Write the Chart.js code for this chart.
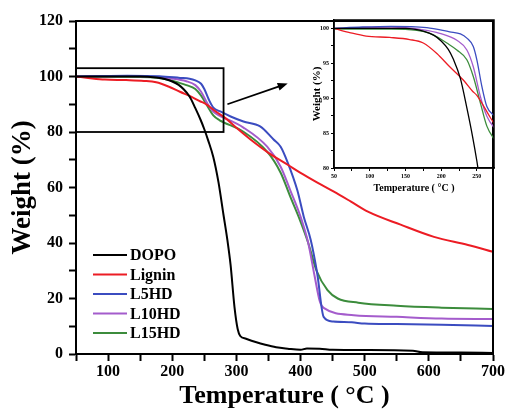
<!DOCTYPE html>
<html>
<head>
<meta charset="utf-8">
<script src="https://cdn.jsdelivr.net/npm/chart.js@4.4.1/dist/chart.umd.min.js"></script>
<style>
  body { margin: 0; background: #fff; }
  #wrap { position: relative; width: 509px; height: 409px; }
  #main { position: absolute; left: 0; top: 0; }
  #inset { position: absolute; left: 290px; top: 0; }
</style>
</head>
<body>
<div id="wrap">
  <canvas id="main" width="509" height="409"></canvas>
  <canvas id="inset" width="219" height="200"></canvas>
</div>
<script>
// --- data ---
const seriesNames = ['DOPO', 'Lignin', 'L5HD', 'L10HD', 'L15HD'];
const seriesColors = ['#000000', '#ec1c24', '#3b4cc0', '#a45ccc', '#3c8c3c'];

const dopoT = [50, 100, 150, 175, 190, 200, 210, 217, 227, 236, 244, 250, 256, 264, 272, 280, 286, 291, 297, 302, 306, 315, 330, 345, 362, 380, 400, 410, 430, 450, 500, 575, 590, 650, 700];
const dopoW = [100, 100, 100, 99.6, 99, 98.2, 97, 95.6, 92.8, 88.6, 84.5, 81, 77, 71, 62, 50, 41, 32, 17, 9, 6.5, 5.5, 4.3, 3.3, 2.4, 1.9, 1.5, 2, 1.9, 1.5, 1.4, 1.2, 0.6, 0.5, 0.4];

const ligninT = [50, 72, 95, 128, 156, 175, 194, 212, 231, 244, 250, 269, 283, 300, 322, 350, 380, 400, 427, 452, 478, 505, 556, 608, 661, 700];
const ligninW = [100, 99.4, 98.9, 98.7, 98.4, 97.9, 96.4, 94.5, 92.6, 91, 90.4, 87.2, 85, 81.5, 77.3, 72.5, 68.2, 65.3, 61.7, 58.5, 55, 51.3, 46.6, 42.2, 39.3, 36.8];

const l5T = [50, 90, 130, 180, 212, 227, 236, 245, 250, 257, 264, 275, 291, 311, 337, 358, 369, 380, 395, 405, 416, 426, 436, 451, 480, 500, 550, 620, 700];
const l5W = [100, 100.2, 100.3, 100.1, 99.5, 99.2, 98.6, 97.4, 95.5, 91.7, 88.8, 87.4, 85.6, 83.8, 82, 77.3, 74.7, 69, 59, 49.5, 41, 29, 13.4, 11.7, 11.4, 11, 10.8, 10.5, 10.1];

const l10T = [50, 130, 175, 198, 222, 236, 245, 255, 264, 275, 280, 311, 348, 369, 384, 400, 412, 422, 430, 436, 483, 550, 620, 700];
const l10W = [100, 100.2, 99.8, 99.3, 98.3, 96.9, 94.5, 90.2, 87.4, 85.7, 85.2, 81.6, 74.7, 67.5, 59, 49.5, 40, 28, 19, 16.6, 14, 13.4, 12.8, 12.6];

const l15T = [50, 130, 166, 184, 194, 208, 222, 236, 245, 255, 264, 274, 280, 311, 348, 369, 384, 397, 412, 425, 442, 458, 490, 550, 620, 700];
const l15W = [99.9, 99.9, 99.7, 99.3, 98.8, 97.9, 96.9, 95.5, 93.1, 89.3, 86, 84.2, 83.5, 80.1, 72.9, 65.3, 56.7, 49.5, 40, 30, 23, 20, 18.5, 17.4, 16.7, 16.2];

const allT = [dopoT, ligninT, l5T, l10T, l15T];
const allW = [dopoW, ligninW, l5W, l10W, l15W];

// zoomed region and arrow (data units)
const zoomBox = { x0: 50, x1: 280, y0: 80, y1: 103 };
const arrowFrom = [286, 90];
const arrowTo = [380, 97.5];

const FONT = '"Liberation Serif", "Times New Roman", serif';

function makeDatasets(width) {
    return seriesNames.map((name, i) => ({
        label: name,
        data: allT[i].map((t, j) => ({ x: t, y: allW[i][j] })),
        borderColor: seriesColors[i],
        backgroundColor: seriesColors[i],
        borderWidth: width,
        pointRadius: 0,
        cubicInterpolationMode: 'monotone',
        fill: false
    }));
}

// frame round the plot area
const framePlugin = {
    id: 'frame',
    afterDatasetsDraw(chart, args, opts) {
        const { ctx, chartArea: a } = chart;
        ctx.save();
        ctx.strokeStyle = '#000';
        ctx.lineWidth = opts.width || 2;
        ctx.strokeRect(a.left, a.top, a.right - a.left, a.bottom - a.top);
        ctx.restore();
    }
};

// rectangle + arrow + legend on the main chart
const extrasPlugin = {
    id: 'extras',
    afterDatasetsDraw(chart) {
        const { ctx, chartArea: a, scales: { x, y } } = chart;
        ctx.save();
        ctx.strokeStyle = '#000';
        ctx.lineWidth = 1.8;
        const rx0 = x.getPixelForValue(zoomBox.x0), rx1 = x.getPixelForValue(zoomBox.x1);
        const ry0 = y.getPixelForValue(zoomBox.y0), ry1 = y.getPixelForValue(zoomBox.y1);
        ctx.strokeRect(rx0, ry1, rx1 - rx0, ry0 - ry1);

        // arrow
        const ax0 = x.getPixelForValue(arrowFrom[0]), ay0 = y.getPixelForValue(arrowFrom[1]);
        const ax1 = x.getPixelForValue(arrowTo[0]), ay1 = y.getPixelForValue(arrowTo[1]);
        const ang = Math.atan2(ay1 - ay0, ax1 - ax0);
        ctx.beginPath();
        ctx.moveTo(ax0, ay0);
        ctx.lineTo(ax1 - 6 * Math.cos(ang), ay1 - 6 * Math.sin(ang));
        ctx.stroke();
        ctx.beginPath();
        ctx.moveTo(ax1, ay1);
        ctx.lineTo(ax1 - 10 * Math.cos(ang) + 4 * Math.sin(ang), ay1 - 10 * Math.sin(ang) - 4 * Math.cos(ang));
        ctx.lineTo(ax1 - 10 * Math.cos(ang) - 4 * Math.sin(ang), ay1 - 10 * Math.sin(ang) + 4 * Math.cos(ang));
        ctx.closePath();
        ctx.fillStyle = '#000';
        ctx.fill();

        // legend
        ctx.font = 'bold 16px ' + FONT;
        ctx.textBaseline = 'middle';
        ctx.textAlign = 'left';
        chart.data.datasets.forEach((ds, i) => {
            const yy = a.top + 234 + i * 19.5;
            ctx.strokeStyle = ds.borderColor;
            ctx.lineWidth = 2;
            ctx.beginPath();
            ctx.moveTo(a.left + 17, yy);
            ctx.lineTo(a.left + 51, yy);
            ctx.stroke();
            ctx.fillStyle = '#000';
            ctx.fillText(ds.label, a.left + 54, yy + 1);
        });
        ctx.restore();
    }
};

// --- main chart ---
new Chart(document.getElementById('main'), {
    type: 'line',
    data: { datasets: makeDatasets(2) },
    options: {
        responsive: false,
        animation: false,
        layout: { padding: { top: 21, right: 16, left: 0, bottom: 0 } },
        plugins: { legend: { display: false }, tooltip: { enabled: false }, frame: { width: 2 } },
        scales: {
            x: {
                type: 'linear', min: 50, max: 700,
                afterFit: s => { s.height = 55; },
                border: { display: true, color: '#000', width: 2 },
                grid: { drawOnChartArea: false, drawTicks: true, tickLength: 7, tickWidth: 2, tickColor: '#000' },
                ticks: {
                    stepSize: 50, includeBounds: false, padding: 1, color: '#000', maxRotation: 0, autoSkip: false,
                    font: { family: FONT, size: 16, weight: 'bold' },
                    callback: v => (v % 100 === 0 ? v : '')
                },
                title: {
                    display: true, text: 'Temperature ( °C )', color: '#000',
                    font: { family: FONT, size: 26, weight: 'bold', lineHeight: 1 },
                    padding: { top: 0, bottom: 0 }
                }
            },
            y: {
                min: 0, max: 120,
                afterFit: s => { s.width = 76; },
                border: { display: true, color: '#000', width: 2 },
                grid: { drawOnChartArea: false, drawTicks: true, tickLength: 7, tickWidth: 2, tickColor: '#000' },
                ticks: {
                    stepSize: 10, padding: 6, color: '#000', autoSkip: false,
                    font: { family: FONT, size: 16, weight: 'bold' },
                    callback: v => (v % 20 === 0 ? v : '')
                },
                title: {
                    display: true, text: 'Weight (%)', color: '#000',
                    font: { family: FONT, size: 27, weight: 'bold', lineHeight: 1 },
                    padding: { top: 10, bottom: 0 }
                }
            }
        }
    },
    plugins: [framePlugin, extrasPlugin]
});

// --- inset chart ---
new Chart(document.getElementById('inset'), {
    type: 'line',
    data: { datasets: makeDatasets(1.3) },
    options: {
        responsive: false,
        animation: false,
        layout: { padding: { top: 20, right: 15, left: 0, bottom: 0 } },
        plugins: { legend: { display: false }, tooltip: { enabled: false }, frame: { width: 1.5 } },
        scales: {
            x: {
                type: 'linear', min: 50, max: 274,
                afterFit: s => { s.height = 32; },
                border: { display: true, color: '#000', width: 1.5 },
                grid: { drawOnChartArea: false, drawTicks: true, tickLength: 3, tickWidth: 1, tickColor: '#000' },
                ticks: {
                    stepSize: 25, includeBounds: false, padding: 2, color: '#000', maxRotation: 0, autoSkip: false,
                    font: { family: FONT, size: 6, weight: 'bold' },
                    callback: v => (v % 50 === 0 ? v : '')
                },
                title: {
                    display: true, text: 'Temperature ( °C )', color: '#000',
                    font: { family: FONT, size: 10, weight: 'bold', lineHeight: 1 },
                    padding: { top: 0, bottom: 7 }
                }
            },
            y: {
                min: 80, max: 101.2,
                afterFit: s => { s.width = 44; },
                border: { display: true, color: '#000', width: 1.5 },
                grid: { drawOnChartArea: false, drawTicks: true, tickLength: 3, tickWidth: 1, tickColor: '#000' },
                ticks: {
                    stepSize: 2.5, includeBounds: false, padding: 2, color: '#000', autoSkip: false,
                    font: { family: FONT, size: 6, weight: 'bold' },
                    callback: v => (v % 5 === 0 ? v : '')
                },
                title: {
                    display: true, text: 'Weight (%)', color: '#000',
                    font: { family: FONT, size: 11, weight: 'bold', lineHeight: 1 },
                    padding: { top: 22, bottom: 0 }
                }
            }
        }
    },
    plugins: [framePlugin]
});
</script>
</body>
</html>
